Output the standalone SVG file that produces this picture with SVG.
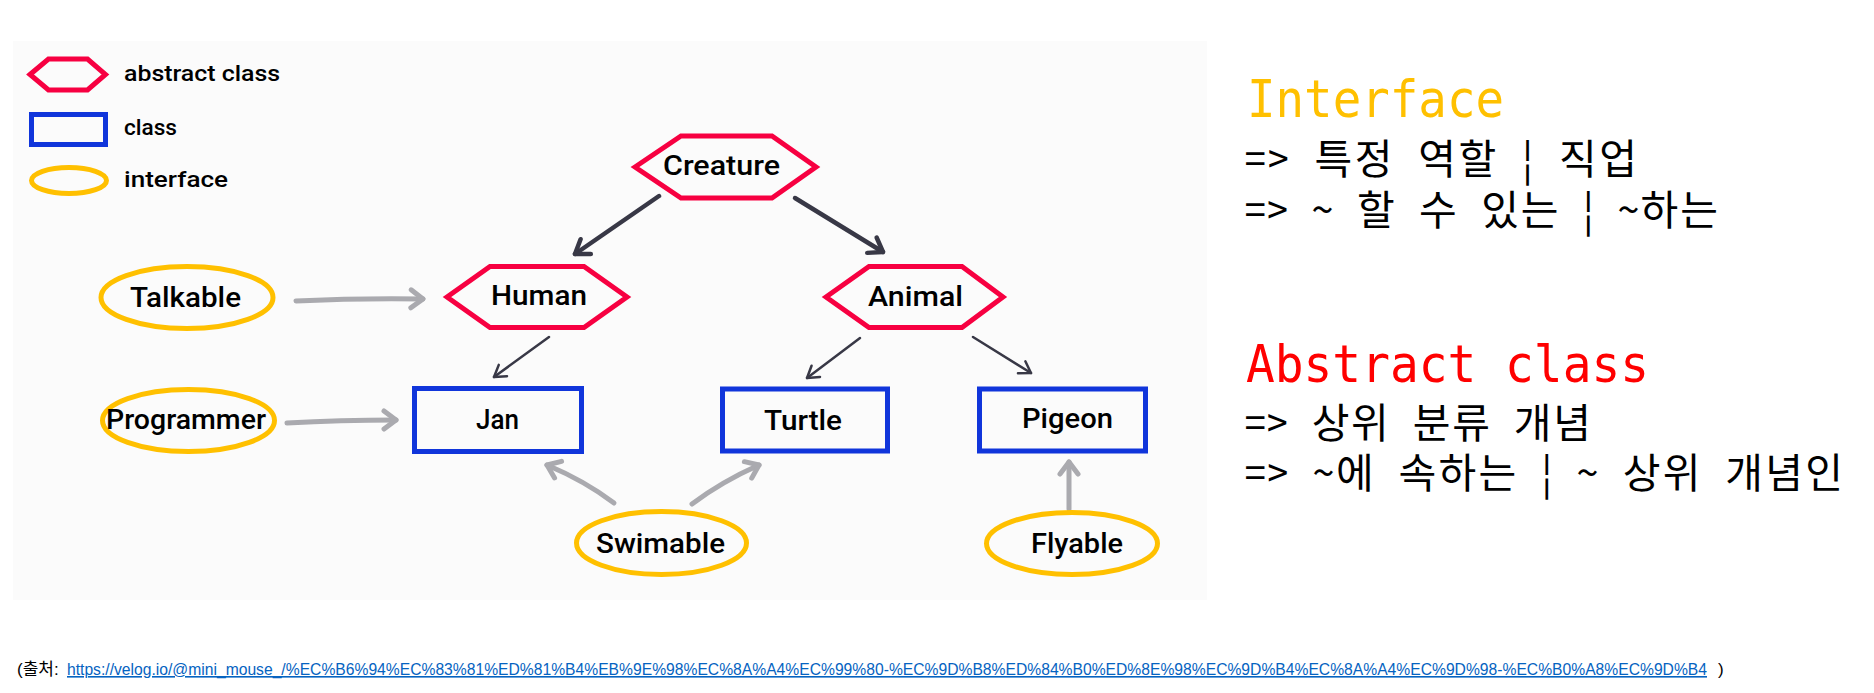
<svg xmlns="http://www.w3.org/2000/svg" width="1874" height="693" viewBox="0 0 1874 693">
<style>
.hex{fill:none;stroke:#F70041;stroke-width:5;stroke-linejoin:miter}
.cls{fill:none;stroke:#1035DB;stroke-width:5}
.itf{fill:none;stroke:#FFC000;stroke-width:5}
.lbl{font-family:Roboto,"Liberation Sans",sans-serif;font-weight:500;font-size:28px;fill:#000}
.leg{font-family:Roboto,"Liberation Sans",sans-serif;font-weight:500;font-size:22px;fill:#000}
.dk{fill:none;stroke:#383846;stroke-width:4.5;stroke-linecap:round}
.dt{fill:none;stroke:#383846;stroke-width:2.5;stroke-linecap:round}
.gr{fill:none;stroke:#AAAAAF;stroke-width:5;stroke-linecap:round}
.mono{font-family:"DejaVu Sans Mono","Liberation Mono",monospace;font-size:52px}
.kr{font-family:"Noto Sans Mono CJK KR","Noto Sans CJK KR",sans-serif;font-size:41px;fill:#000}
.src{font-family:"Liberation Sans","Noto Sans CJK KR",sans-serif;font-size:17px}
</style>
<defs>
<marker id="ad" markerUnits="userSpaceOnUse" orient="auto" refX="0" refY="0" markerWidth="30" markerHeight="30" overflow="visible">
<path d="M-13,-9 L0,0 L-13,9" fill="none" stroke="#383846" stroke-width="4.5" stroke-linecap="round" stroke-linejoin="round"/>
</marker>
<marker id="at" markerUnits="userSpaceOnUse" orient="auto" refX="0" refY="0" markerWidth="30" markerHeight="30" overflow="visible">
<path d="M-11,-7 L0,0 L-11,7" fill="none" stroke="#383846" stroke-width="2.5" stroke-linecap="round" stroke-linejoin="round"/>
</marker>
<marker id="ag" markerUnits="userSpaceOnUse" orient="auto" refX="0" refY="0" markerWidth="30" markerHeight="30" overflow="visible">
<path d="M-12,-9 L0,0 L-12,9" fill="none" stroke="#AAAAAF" stroke-width="5" stroke-linecap="round" stroke-linejoin="round"/>
</marker>
</defs>
<rect x="0" y="0" width="1874" height="693" fill="#FFFFFF"/>
<rect x="13" y="41" width="1194" height="559" fill="#FBFBFB"/>

<g id="legend">
<polygon class="hex" points="30,74.5 48.5,59 87.5,59 105.5,74.5 87.5,90 48.5,90"/>
<text class="leg" x="124" y="81" textLength="156" lengthAdjust="spacingAndGlyphs">abstract class</text>
<rect class="cls" x="31.5" y="114.5" width="74" height="30"/>
<text class="leg" x="124" y="135" textLength="53" lengthAdjust="spacingAndGlyphs">class</text>
<ellipse class="itf" cx="69" cy="180.5" rx="37.5" ry="13"/>
<text class="leg" x="124" y="187" textLength="104" lengthAdjust="spacingAndGlyphs">interface</text>
</g>

<g id="connectors">
<path class="dk" d="M659,196 L575,254" marker-end="url(#ad)"/>
<path class="dk" d="M795,198 L883,252" marker-end="url(#ad)"/>
<path class="dt" d="M549,337 L494,377" marker-end="url(#at)"/>
<path class="dt" d="M860,338 L807,378" marker-end="url(#at)"/>
<path class="dt" d="M973,337 L1031,373" marker-end="url(#at)"/>
<path class="gr" d="M296,301 Q360,298 423,299" marker-end="url(#ag)"/>
<path class="gr" d="M287,423 Q340,420 396,420" marker-end="url(#ag)"/>
<path class="gr" d="M614,503 Q585,481 547,465" marker-end="url(#ag)"/>
<path class="gr" d="M692,504 Q721,482 759,465" marker-end="url(#ag)"/>
<path class="gr" d="M1069,509 L1069,462" marker-end="url(#ag)"/>
</g>

<g id="creature">
<polygon class="hex" points="635,167 681,136 772,136 816,167 772,198 681,198"/>
<text class="lbl" x="663" y="175" textLength="117" lengthAdjust="spacingAndGlyphs">Creature</text>
</g>
<g id="human">
<polygon class="hex" points="447,297 490,266.5 584,266.5 627,297 584,327.5 490,327.5"/>
<text class="lbl" x="491" y="305" textLength="96" lengthAdjust="spacingAndGlyphs">Human</text>
</g>
<g id="animal">
<polygon class="hex" points="826,297 869,266.5 962,266.5 1003,297 962,327.5 869,327.5"/>
<text class="lbl" x="868" y="306" textLength="95" lengthAdjust="spacingAndGlyphs">Animal</text>
</g>
<g id="talkable">
<ellipse class="itf" cx="187" cy="297.5" rx="86" ry="31"/>
<text class="lbl" x="130" y="307" textLength="111" lengthAdjust="spacingAndGlyphs">Talkable</text>
</g>
<g id="programmer">
<ellipse class="itf" cx="188.5" cy="420.5" rx="86" ry="31"/>
<text class="lbl" x="106" y="429" textLength="160" lengthAdjust="spacingAndGlyphs">Programmer</text>
</g>
<g id="jan">
<rect class="cls" x="414.5" y="388.5" width="167" height="63"/>
<text class="lbl" x="476" y="429" textLength="43" lengthAdjust="spacingAndGlyphs">Jan</text>
</g>
<g id="turtle">
<rect class="cls" x="722.5" y="389" width="165" height="62"/>
<text class="lbl" x="764" y="430" textLength="78" lengthAdjust="spacingAndGlyphs">Turtle</text>
</g>
<g id="pigeon">
<rect class="cls" x="979.5" y="389" width="166" height="62"/>
<text class="lbl" x="1022" y="428" textLength="91" lengthAdjust="spacingAndGlyphs">Pigeon</text>
</g>
<g id="swimable">
<ellipse class="itf" cx="661.5" cy="543" rx="85" ry="31.5"/>
<text class="lbl" x="596" y="553" textLength="129" lengthAdjust="spacingAndGlyphs">Swimable</text>
</g>
<g id="flyable">
<ellipse class="itf" cx="1072" cy="543.5" rx="85.5" ry="31"/>
<text class="lbl" x="1031" y="553" textLength="92" lengthAdjust="spacingAndGlyphs">Flyable</text>
</g>

<g id="notes">
<text class="mono" x="1247" y="117" fill="#FFC000" textLength="257" lengthAdjust="spacingAndGlyphs">Interface</text>
<text class="kr"><tspan x="1245" y="174" textLength="392" lengthAdjust="spacing">=&gt; 특정 역할 ¦ 직업</tspan><tspan x="1245" y="225" textLength="473" lengthAdjust="spacing">=&gt; ~ 할 수 있는 ¦ ~하는</tspan></text>
<text class="mono" x="1246" y="382" fill="#FF0000" textLength="403" lengthAdjust="spacingAndGlyphs">Abstract class</text>
<text class="kr"><tspan x="1245" y="438" textLength="346" lengthAdjust="spacing">=&gt; 상위 분류 개념</tspan><tspan x="1245" y="488" textLength="598" lengthAdjust="spacing">=&gt; ~에 속하는 ¦ ~ 상위 개념인</tspan></text>
</g>

<g id="source">
<text class="src" x="17" y="675" fill="#000">(출처:</text>
<text class="src" x="67" y="675" fill="#0563C1" style="font-size:16px" text-decoration="underline" textLength="1640" lengthAdjust="spacingAndGlyphs">https://velog.io/@mini_mouse_/%EC%B6%94%EC%83%81%ED%81%B4%EB%9E%98%EC%8A%A4%EC%99%80-%EC%9D%B8%ED%84%B0%ED%8E%98%EC%9D%B4%EC%8A%A4%EC%9D%98-%EC%B0%A8%EC%9D%B4</text>
<text class="src" x="1718" y="675" fill="#000">)</text>
</g>
</svg>
